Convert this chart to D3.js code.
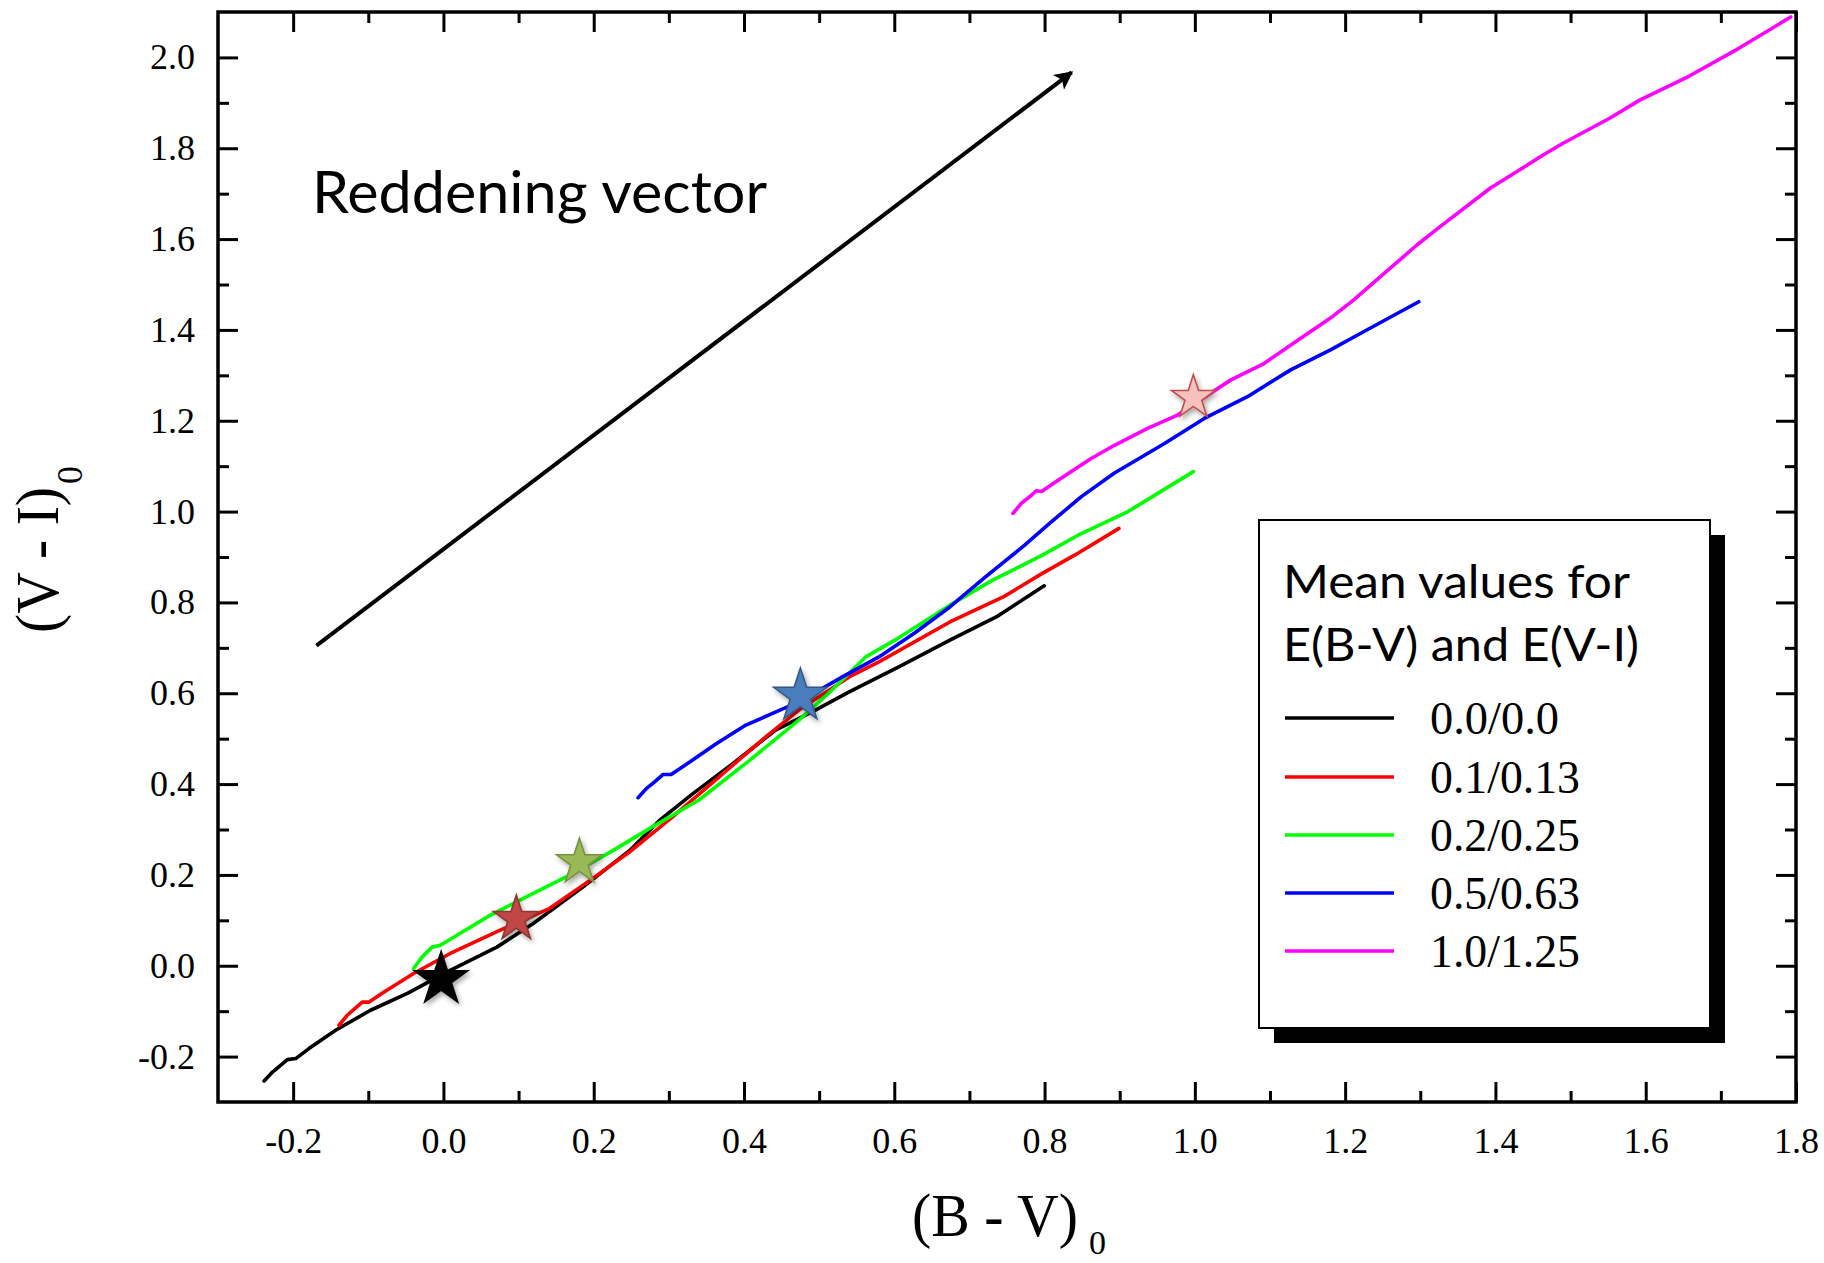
<!DOCTYPE html>
<html><head><meta charset="utf-8">
<script src="https://cdn.jsdelivr.net/npm/d3@7"></script>
<style>body{margin:0;background:#fff} svg{display:block;background:#fff}</style>
</head><body>
<svg id="chart" width="1824" height="1263"></svg>
<script>
// ---------- data ----------
const xMajorTicks = [-0.2, 0.0, 0.2, 0.4, 0.6, 0.8, 1.0, 1.2, 1.4, 1.6, 1.8];
const xMinorTicks = [-0.1, 0.1, 0.3, 0.5, 0.7, 0.9, 1.1, 1.3, 1.5, 1.7];
const yMajorTicks = [-0.2, 0.0, 0.2, 0.4, 0.6, 0.8, 1.0, 1.2, 1.4, 1.6, 1.8, 2.0];
const yMinorTicks = [-0.1, 0.1, 0.3, 0.5, 0.7, 0.9, 1.1, 1.3, 1.5, 1.7, 1.9];

const seriesNames = ["0.0/0.0", "0.1/0.13", "0.2/0.25", "0.5/0.63", "1.0/1.25"];
const seriesColors = ["#000000", "#ff0000", "#00ff00", "#0000ff", "#ff00ff"];

const black00 = [[-0.2386,-0.2537],[-0.2275,-0.234],[-0.2076,-0.2067],[-0.1966,-0.2044],[-0.179,-0.1824],
  [-0.1435,-0.142],[-0.097,-0.098],[-0.048,-0.061],[0.009,-0.01],[0.071,0.041],[0.1195,0.093],[0.186,0.1736],
  [0.248,0.254],[0.2875,0.320],[0.332,0.379],[0.385,0.445],[0.442,0.519],[0.495,0.563],[0.540,0.603],
  [0.5796,0.636],[0.606,0.658],[0.674,0.717],[0.7357,0.768],[0.7995,0.8366]];
const red013 = [[-0.139,-0.131],[-0.128,-0.109],[-0.108,-0.080],[-0.099,-0.080],[-0.079,-0.058],[-0.0397,-0.017],
  [0.009,0.027],[0.075,0.078],[0.141,0.126],[0.195,0.188],[0.248,0.251],[0.305,0.328],[0.367,0.416],[0.429,0.504],
  [0.473,0.563],[0.540,0.636],[0.5796,0.669],[0.674,0.757],[0.745,0.812],[0.797,0.864],[0.840,0.904],[0.899,0.963]];
const green025 = [[-0.0397,-0.006],[-0.0285,0.019],[-0.015,0.041],[-0.004,0.045],[0.018,0.067],[0.062,0.111],
  [0.111,0.152],[0.164,0.196],[0.226,0.254],[0.274,0.302],[0.340,0.365],[0.407,0.4515],[0.473,0.541],[0.517,0.607],
  [0.562,0.680],[0.606,0.722],[0.674,0.794],[0.731,0.849],[0.797,0.904],[0.8446,0.948],[0.911,1.000],[0.998,1.088]];
const blue063 = [[0.259,0.370],[0.270,0.390],[0.281,0.405],[0.292,0.421],[0.303,0.421],[0.3185,0.438],[0.363,0.489],
  [0.4025,0.530],[0.438,0.5555],[0.473,0.581],[0.531,0.636],[0.5796,0.680],[0.6266,0.732],[0.674,0.790],[0.7214,0.856],
  [0.7735,0.926],[0.8066,0.974],[0.849,1.033],[0.893,1.085],[0.9596,1.150],[1.0126,1.205],[1.070,1.253],[1.1275,1.312],
  [1.1805,1.356],[1.2245,1.396],[1.298,1.462]];
const magenta125 = [[0.758,0.996],[0.769,1.018],[0.7826,1.036],[0.789,1.046],[0.796,1.044],[0.818,1.069],[0.862,1.117],
  [0.893,1.146],[0.937,1.183],[0.977,1.2125],[1.048,1.290],[1.092,1.326],[1.136,1.376],[1.180,1.4255],[1.2115,1.466],
  [1.242,1.510],[1.2955,1.587],[1.326,1.627],[1.393,1.712],[1.4635,1.785],[1.490,1.811],[1.552,1.866],[1.592,1.906],
  [1.658,1.959],[1.724,2.020],[1.793,2.089]];

const starPoints = [[-0.003,-0.030],[0.097,0.103],[0.181,0.228],[0.475,0.594],[0.998,1.251]];
const starFills = ["#000000", "#bf4744", "#98b954", "#4a7dbb", "#f6c0be"];
const starStrokes = ["#000000", "#8e3532", "#76923f", "#36598a", "#c0504d"];
const starRadii = [28, 24, 24, 28, 23];

const reddening = [[-0.169, 0.705], [0.836, 1.967]];

// ---------- setup ----------
const svg = d3.select("#chart");
const L = 218, R = 1796, T = 12, B = 1102;
const x = d3.scaleLinear().domain([-0.3, 1.8]).range([L, R]);
const y = d3.scaleLinear().domain([-0.3, 2.1]).range([B, T]);
const serif = "'Liberation Serif','Times New Roman',serif";
const sans = "Lato,'Open Sans',sans-serif";
const fmt = d => (Math.abs(d) < 1e-9 ? 0 : d).toFixed(1);

const defs = svg.append("defs");
const f = defs.append("filter").attr("id","shadow").attr("x","-50%").attr("y","-50%").attr("width","200%").attr("height","200%");
f.append("feDropShadow").attr("dx",2).attr("dy",3).attr("stdDeviation",2.5).attr("flood-color","#000").attr("flood-opacity",0.35);
defs.append("marker").attr("id","arrowhead").attr("viewBox","0 0 10 10").attr("refX",9).attr("refY",5)
  .attr("markerWidth",5.2).attr("markerHeight",4.6).attr("markerUnits","strokeWidth").attr("orient","auto")
  .append("path").attr("d","M0,0 L10,5 L0,10 L2.5,5 Z").attr("fill","#000");

// ---------- axes ----------
function styleAxis(g){
  g.select(".domain").remove();
  g.selectAll(".tick line").attr("stroke","#000").attr("stroke-width",3);
  g.selectAll(".tick text").attr("font-family",serif).attr("font-size",36).attr("fill","#000");
}
svg.append("g").attr("transform",`translate(0,${B})`)
  .call(d3.axisBottom(x).tickValues(xMajorTicks).tickSizeInner(-20).tickSizeOuter(0).tickPadding(25).tickFormat(fmt)).call(styleAxis);
svg.append("g").attr("transform",`translate(0,${B})`)
  .call(d3.axisBottom(x).tickValues(xMinorTicks).tickSizeInner(-11).tickSizeOuter(0).tickFormat("")).call(styleAxis);
svg.append("g").attr("transform",`translate(0,${T})`)
  .call(d3.axisTop(x).tickValues(xMajorTicks).tickSizeInner(-20).tickSizeOuter(0).tickFormat("")).call(styleAxis);
svg.append("g").attr("transform",`translate(0,${T})`)
  .call(d3.axisTop(x).tickValues(xMinorTicks).tickSizeInner(-11).tickSizeOuter(0).tickFormat("")).call(styleAxis);
svg.append("g").attr("transform",`translate(${L},0)`)
  .call(d3.axisLeft(y).tickValues(yMajorTicks).tickSizeInner(-20).tickSizeOuter(0).tickPadding(23).tickFormat(fmt)).call(styleAxis);
svg.append("g").attr("transform",`translate(${L},0)`)
  .call(d3.axisLeft(y).tickValues(yMinorTicks).tickSizeInner(-11).tickSizeOuter(0).tickFormat("")).call(styleAxis);
svg.append("g").attr("transform",`translate(${R},0)`)
  .call(d3.axisRight(y).tickValues(yMajorTicks).tickSizeInner(-20).tickSizeOuter(0).tickFormat("")).call(styleAxis);
svg.append("g").attr("transform",`translate(${R},0)`)
  .call(d3.axisRight(y).tickValues(yMinorTicks).tickSizeInner(-11).tickSizeOuter(0).tickFormat("")).call(styleAxis);

svg.append("rect").attr("x",L).attr("y",T).attr("width",R-L).attr("height",B-T)
  .attr("fill","none").attr("stroke","#000").attr("stroke-width",3.5);

// axis titles
svg.append("text").attr("x",912).attr("y",1236).attr("font-family",serif).attr("font-size",62).attr("fill","#000")
  .attr("textLength",166).attr("lengthAdjust","spacingAndGlyphs").text("(B - V)");
svg.append("text").attr("x",1089).attr("y",1254).attr("font-family",serif).attr("font-size",34).text("0");

const yt = svg.append("g").attr("transform","translate(58,633) rotate(-90)");
yt.append("text").attr("x",0).attr("y",0).attr("font-family",serif).attr("font-size",62)
  .attr("textLength",146).attr("lengthAdjust","spacingAndGlyphs").text("(V - I)");
yt.append("text").attr("x",149).attr("y",24).attr("font-family",serif).attr("font-size",36).text("0");

// ---------- series ----------
const line = d3.line().x(d => x(d[0])).y(d => y(d[1]));
const allSeries = [black00, red013, green025, blue063, magenta125];
svg.append("g").selectAll("path").data(allSeries).join("path")
  .attr("d", line).attr("fill","none")
  .attr("stroke",(d,i)=>seriesColors[i]).attr("stroke-width",3.6)
  .attr("stroke-linejoin","round").attr("stroke-linecap","round");

// reddening vector
svg.append("line").attr("x1",x(reddening[0][0])).attr("y1",y(reddening[0][1]))
  .attr("x2",x(reddening[1][0])).attr("y2",y(reddening[1][1]))
  .attr("stroke","#000").attr("stroke-width",4).attr("marker-end","url(#arrowhead)");
svg.append("text").attr("x",312).attr("y",213).attr("font-family",sans).attr("font-size",58)
  .attr("textLength",455).attr("lengthAdjust","spacingAndGlyphs").attr("fill","#000").text("Reddening vector");

// stars
svg.append("g").selectAll("path").data(starPoints).join("path")
  .attr("transform", d => `translate(${x(d[0])},${y(d[1])})`)
  .attr("d", (d,i) => d3.symbol().type(d3.symbolStar).size(starRadii[i]*starRadii[i]/0.8908130915)())
  .attr("fill",(d,i)=>starFills[i]).attr("stroke",(d,i)=>starStrokes[i]).attr("stroke-width",1.6)
  .attr("stroke-linejoin","miter").attr("filter","url(#shadow)");

// ---------- legend ----------
const lg = svg.append("g");
lg.append("rect").attr("x",1274).attr("y",535).attr("width",451).attr("height",508).attr("fill","#000");
lg.append("rect").attr("x",1259).attr("y",520).attr("width",451).attr("height",508).attr("fill","#fff")
  .attr("stroke","#000").attr("stroke-width",2);
lg.append("text").attr("x",1283).attr("y",598).attr("font-family",sans).attr("font-size",46)
  .attr("textLength",347).attr("lengthAdjust","spacingAndGlyphs").text("Mean values for");
lg.append("text").attr("x",1283).attr("y",661).attr("font-family",sans).attr("font-size",46)
  .attr("textLength",356).attr("lengthAdjust","spacingAndGlyphs").text("E(B-V) and E(V-I)");
const rowY = [718, 777, 835, 893, 951];
const rows = lg.selectAll("g.row").data(seriesNames).join("g").attr("class","row")
  .attr("transform",(d,i)=>`translate(0,${rowY[i]})`);
rows.append("line").attr("x1",1285).attr("x2",1394).attr("y1",0).attr("y2",0)
  .attr("stroke",(d,i)=>seriesColors[i]).attr("stroke-width",3.6);
rows.append("text").attr("x",1430).attr("y",16).attr("font-family",serif).attr("font-size",46)
  .attr("textLength",(d,i)=> i===0 ? 129 : 150).attr("lengthAdjust","spacingAndGlyphs").text(d=>d);
</script>
</body></html>
